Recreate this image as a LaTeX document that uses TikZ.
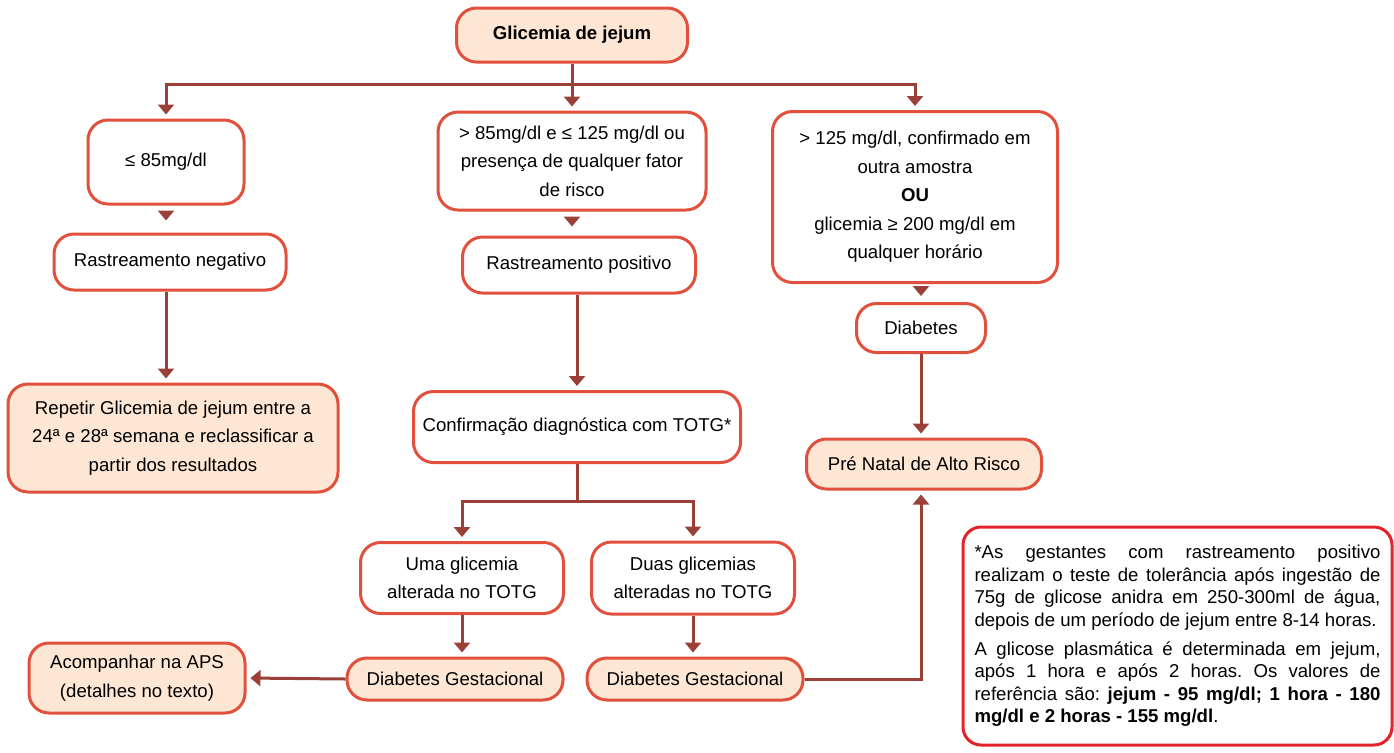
\documentclass[tikz,border=0pt]{standalone}
\usepackage{fontspec}
\setmainfont{Liberation Sans}
\usetikzlibrary{arrows.meta}
\definecolor{boxred}{HTML}{E0503C}
\definecolor{arrowred}{HTML}{9A4038}
\definecolor{peach}{HTML}{FDE6D4}
\definecolor{notered}{HTML}{E2232A}
\frenchspacing

\begin{document}
\begin{tikzpicture}[x=0.5pt, y=-0.5pt,
				box/.style={draw=boxred, line width=1.5pt, rounded corners=10pt, fill=white, align=center, inner sep=2pt, font=\fontsize{9.3}{14.25}\selectfont},
				result/.style={box, fill=peach},
				flow/.style={draw=arrowred, line width=1.5pt, -{Triangle[length=5pt, width=8pt]}, shorten >=2pt},
				link/.style={draw=arrowred, line width=1.5pt}
				]
				
				\useasboundingbox (0,0) rectangle (1394,752);
				
				\node[result, minimum width=115.5pt, minimum height=27pt, font=\fontsize{9.3}{14.25}\selectfont\bfseries] (jejum) at (572,35) {Glicemia de jejum};
				
				\node[box, minimum width=78pt, minimum height=42pt] (baixa) at (166,162) {≤ 85mg/dl};
				\node[box, minimum width=134pt, minimum height=49pt] (media) at (572,161) {> 85mg/dl e ≤ 125 mg/dl ou\\presença de qualquer fator\\de risco};
				\node[box, minimum width=142.5pt, minimum height=85.5pt] (alta) at (915,197) {> 125 mg/dl, confirmado em\\outra amostra\\\textbf{OU}\\glicemia ≥ 200 mg/dl em\\qualquer horário};
				
				\node[box, minimum width=116pt, minimum height=28pt] (negativo) at (170,262) {Rastreamento negativo};
				\node[box, minimum width=116.5pt, minimum height=28pt] (positivo) at (579,265) {Rastreamento positivo};
				\node[box, minimum width=64.5pt, minimum height=24.5pt] (diabetes) at (921,328) {Diabetes};
				
				\node[result, minimum width=165pt, minimum height=54pt] (repetir) at (173,438) {Repetir Glicemia de jejum entre a\\24ª e 28ª semana e reclassificar a\\partir dos resultados};
				\node[box, minimum width=163.5pt, minimum height=35.5pt] (totg) at (577,427) {Confirmação diagnóstica com TOTG*};
				\node[result, minimum width=117.5pt, minimum height=25pt] (altorisco) at (924,464) {Pré Natal de Alto Risco};
				
				\node[box, minimum width=101.5pt, minimum height=35.5pt] (uma) at (462,578) {Uma glicemia\\alterada no TOTG};
				\node[box, minimum width=101.5pt, minimum height=36pt] (duas) at (693,578) {Duas glicemias\\alteradas no TOTG};
				
				\node[result, minimum width=108pt, minimum height=21pt] (dg1) at (455,679) {Diabetes Gestacional};
				\node[result, minimum width=108pt, minimum height=21pt] (dg2) at (695,679) {Diabetes Gestacional};
				\node[result, minimum width=108pt, minimum height=35pt] (aps) at (137,678) {Acompanhar na APS\\(detalhes no texto)};
				
				\node[draw=notered, line width=1.5pt, rounded corners=9pt, minimum width=214.5pt, minimum height=109pt, text width=203pt, align=justify, font=\fontsize{9.3}{11.3}\selectfont] (nota) at (1177.5,636) {\hyphenpenalty=10000\relax *As gestantes com rastreamento positivo\linebreak realizam o teste de tolerância após ingestão de\linebreak 75g de glicose anidra em 250-300ml de água,\linebreak depois de um período de jejum entre 8-14 horas.\par\vspace{3pt}A glicose plasmática é determinada em jejum,\linebreak após 1 hora e após 2 horas. Os valores de\linebreak referência são: \textbf{jejum - 95 mg/dl; 1 hora - 180\linebreak mg/dl e 2 horas - 155 mg/dl}.};
				
				\coordinate (ramo) at (572,84);
				\coordinate (teste) at (577,501);
				
				\draw[link] (jejum) -- (ramo);
				\foreach \n in {baixa, media, alta} {
					\draw[flow] (ramo) -| (\n.north);
				}
				
				\draw[flow, shorten <=4pt, shorten >=6pt] (baixa.south) -- (baixa.south |- negativo.north);
				\draw[flow, shorten <=3.5pt, shorten >=4.5pt] (media.south) -- (media.south |- positivo.north);
				\draw[flow, shorten <=2.5pt, shorten >=3pt] (alta.south -| diabetes.north) -- (diabetes.north);
				
				\draw[flow] (baixa.south |- negativo.south) -- (baixa.south |- repetir.north);
				\draw[flow] (totg.north |- positivo.south) -- (totg.north);
				\draw[flow] (diabetes.south) -- (diabetes.south |- altorisco.north);
				
				\draw[link] (totg) -- (teste);
				\foreach \n in {uma, duas} {
					\draw[flow] (teste) -| (\n.north);
				}
				\draw[flow] (uma.south) -- (uma.south |- dg1.north);
				\draw[flow] (duas.south) -- (duas.south |- dg2.north);
				
				\draw[flow] (dg1.west) -- (aps.east);
				\draw[flow] (dg2.east) -| (diabetes.south |- altorisco.south);
			\end{tikzpicture}
\end{document}
